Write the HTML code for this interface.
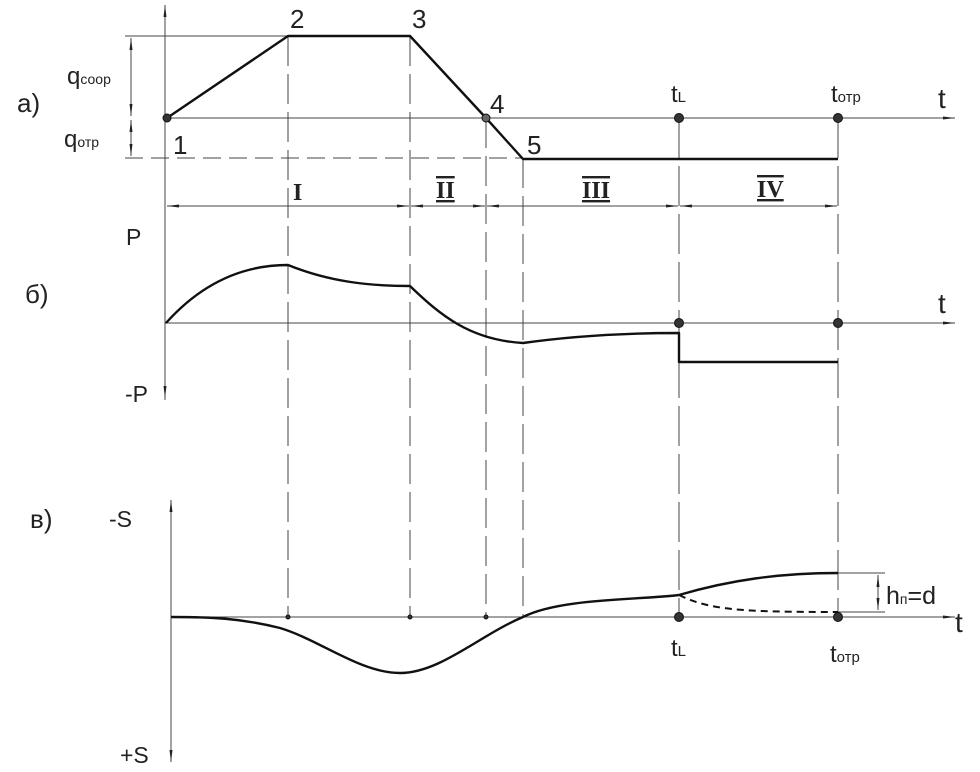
<!DOCTYPE html>
<html><head><meta charset="utf-8"><style>
html,body{margin:0;padding:0;background:#fff;}
svg{display:block;}
text{font-family:"Liberation Sans",Arial,sans-serif;fill:#222;}
</style></head><body>
<svg width="980" height="772" viewBox="0 0 980 772" xmlns="http://www.w3.org/2000/svg">
<defs>
<marker id="ar" markerWidth="12" markerHeight="6" refX="12" refY="3" orient="auto" markerUnits="userSpaceOnUse">
<path d="M0,1.5 L12,3 L0,4.5 Z" fill="#222"/></marker>
<marker id="al" markerWidth="12" markerHeight="6" refX="0" refY="3" orient="auto" markerUnits="userSpaceOnUse">
<path d="M12,1.5 L0,3 L12,4.5 Z" fill="#222"/></marker>
</defs>
<g stroke="#444" stroke-width="1" fill="none">
<line x1="165" y1="400" x2="165" y2="5" marker-end="url(#ar)"/>
<line x1="165" y1="118" x2="955" y2="118" marker-end="url(#ar)"/>
<line x1="125" y1="36" x2="410" y2="36"/>
<line x1="125" y1="158" x2="522" y2="158" stroke-dasharray="18,8"/>
<line x1="131" y1="38" x2="131" y2="116" marker-start="url(#al)" marker-end="url(#ar)"/>
<line x1="131" y1="120" x2="131" y2="156" marker-start="url(#al)" marker-end="url(#ar)"/>
<line x1="167" y1="206" x2="409" y2="206" marker-start="url(#al)" marker-end="url(#ar)"/>
<line x1="411" y1="206" x2="485" y2="206" marker-start="url(#al)" marker-end="url(#ar)"/>
<line x1="487" y1="206" x2="678" y2="206" marker-start="url(#al)" marker-end="url(#ar)"/>
<line x1="680" y1="206" x2="837" y2="206" marker-start="url(#al)" marker-end="url(#ar)"/>
<line x1="288" y1="36" x2="288" y2="617" stroke-dasharray="30,8"/>
<line x1="410" y1="36" x2="410" y2="617" stroke-dasharray="30,8"/>
<line x1="486" y1="118" x2="486" y2="617" stroke-dasharray="30,8"/>
<line x1="523" y1="158" x2="523" y2="617" stroke-dasharray="30,8"/>
<line x1="679" y1="118" x2="679" y2="617" stroke-dasharray="40,8"/>
<line x1="838" y1="118" x2="838" y2="617" stroke-dasharray="40,8"/>
<line x1="165" y1="323" x2="955" y2="323" marker-end="url(#ar)"/>
<line x1="165" y1="340" x2="165" y2="398" marker-end="url(#ar)"/>
<line x1="171" y1="760" x2="171" y2="500" marker-end="url(#ar)"/>
<line x1="171" y1="740" x2="171" y2="762" marker-end="url(#ar)"/>
<line x1="171" y1="617" x2="955" y2="617" marker-end="url(#ar)"/>
<line x1="838" y1="573" x2="885" y2="573"/>
<line x1="838" y1="612" x2="885" y2="612"/>
<line x1="878" y1="575" x2="878" y2="610" marker-start="url(#al)" marker-end="url(#ar)"/>
</g>
<g stroke="#111" stroke-width="2.4" fill="none" stroke-linejoin="round">
<polyline points="167,118 288,36 410,36 486,118 523,159 838,159"/>
<path d="M166,323 C200,285 240,265 288,265 C330,282 370,286 410,286 C440,315 470,340 523,343 C580,335 630,333 679,333 L679,362 L838,362"/>
<path d="M171,617 C210,617 240,618 280,628 C320,640 360,673 400,673 C440,673 480,635 523,617 C560,598 640,600 679,595 C730,580 780,573 838,573"/>
<path d="M679,595 C710,610 740,612 838,612" stroke-dasharray="7,5" stroke-width="2"/>
</g>
<g fill="#333" stroke="#111" stroke-width="1">
<circle cx="167" cy="118" r="4"/><circle cx="486" cy="118" r="4" fill="#666"/>
<circle cx="679" cy="118" r="4.5"/><circle cx="838" cy="118" r="4.5"/>
<circle cx="679" cy="323" r="4.5"/><circle cx="838" cy="323" r="4.5"/>
<circle cx="679" cy="617" r="4.5"/><circle cx="838" cy="617" r="4.5"/>
<circle cx="288" cy="617" r="2"/><circle cx="410" cy="617" r="2"/><circle cx="486" cy="617" r="2"/>
</g>
<g font-size="26">
<text x="17" y="112">а)</text>
<text x="25" y="303">б)</text>
<text x="30" y="528">в)</text>
<text x="173" y="154">1</text>
<text x="290" y="28">2</text>
<text x="412" y="28">3</text>
<text x="490" y="113">4</text>
<text x="527" y="154">5</text>
<text x="938" y="108" font-size="28">t</text>
<text x="938" y="313" font-size="28">t</text>
<text x="955" y="632" font-size="28">t</text>
<text x="126" y="245" font-size="23">P</text>
<text x="125" y="402" font-size="23">-P</text>
<text x="109" y="527" font-size="23">-S</text>
<text x="120" y="763" font-size="23">+S</text>
<text x="886" y="604" font-size="25">h<tspan font-size="14">п</tspan>=d</text>
</g>
<g font-size="24">
<text x="67" y="84">q<tspan font-size="14">соор</tspan></text>
<text x="64" y="147">q<tspan font-size="14">отр</tspan></text>
<text x="671" y="102">t<tspan font-size="15">L</tspan></text>
<text x="831" y="102">t<tspan font-size="15">отр</tspan></text>
<text x="671" y="656">t<tspan font-size="15">L</tspan></text>
<text x="830" y="662">t<tspan font-size="15">отр</tspan></text>
</g>
<g font-size="24" font-weight="bold">
<text x="293" y="200" style="font-family:'Liberation Serif',serif">I</text>
<text x="436" y="198" style="font-family:'Liberation Serif',serif;text-decoration:underline overline">II</text>
<text x="582" y="198" style="font-family:'Liberation Serif',serif;text-decoration:underline overline">III</text>
<text x="757" y="197" style="font-family:'Liberation Serif',serif;text-decoration:underline overline">IV</text>
</g>
</svg>
</body></html>
